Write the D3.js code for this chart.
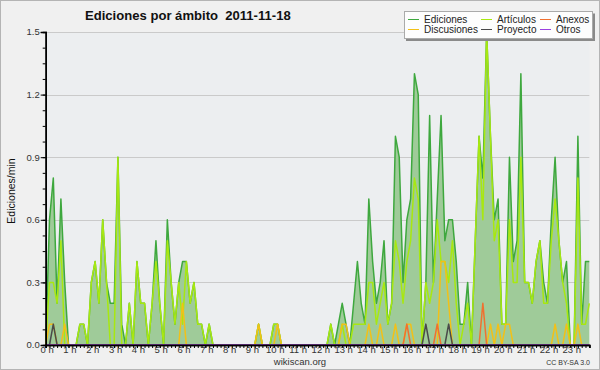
<!DOCTYPE html>
<html><head><meta charset="utf-8">
<script src="https://cdn.jsdelivr.net/npm/d3@7"></script>
<style>body{margin:0;background:#f0f0f0}svg{display:block}text{font-family:"Liberation Sans",Arial,sans-serif}</style>
</head><body><svg id="c" width="600" height="370"></svg>
<script>
const title = "Ediciones por ámbito  2011-11-18";
const yLabel = "Ediciones/min";
const yTicks = [0, 0.3, 0.6, 0.9, 1.2, 1.5];
const hours = d3.range(0, 24);
// 144 ten-minute slots, edits per minute
const ediciones = [
0,0.6,0.8,0.2,0.7,0.3,0,0,0,0.1,
0.1,0,0.3,0.4,0.2,0.6,0.3,0.2,0.2,0.9,
0.1,0,0.2,0,0.4,0.2,0.2,0,0.2,0.5,
0.2,0,0.6,0.3,0.1,0.3,0.4,0.4,0.2,0.3,
0.1,0.1,0,0.1,0,0,0,0,0,0,
0,0,0,0,0,0,0.1,0,0,0,
0.1,0.1,0,0,0,0,0,0,0,0,
0,0,0,0,0,0.1,0,0.1,0.2,0.1,
0,0.2,0.4,0.2,0.1,0.7,0.4,0.2,0.3,0.5,
0.1,0.2,1.0,0.9,0.3,0.6,0.7,1.3,1.2,0,
0.3,1.1,0.3,0.7,1.1,0.5,0.6,0.6,0.4,0.1,
0.1,0.3,0,0.5,1.0,0.8,1.5,1.0,0.6,0.7,
0.1,0.1,0.9,0.4,0.5,1.3,0.3,0.3,0.2,0.4,
0.5,0.3,0.2,0.6,0.9,0.5,0.3,0.4,0,0,
1.0,0.1,0.4,0.4];
const articulos = [
0,0.3,0.3,0.2,0.5,0,0,0,0,0.1,
0.1,0,0.3,0.4,0.2,0.6,0.3,0,0,0.9,
0,0,0.2,0,0.4,0.2,0.2,0,0.2,0.4,
0.2,0,0.5,0.3,0.1,0.3,0.1,0.4,0.2,0.3,
0.1,0.1,0,0.1,0,0,0,0,0,0,
0,0,0,0,0,0,0.1,0,0,0,
0.1,0.1,0,0,0,0,0,0,0,0,
0,0,0,0,0,0.1,0,0,0.1,0,
0,0.1,0.1,0.1,0.1,0.3,0.3,0.1,0.2,0.3,
0.1,0.2,0.5,0.4,0.2,0.4,0.5,0.8,0.7,0,
0.3,0.2,0.3,0.6,0.4,0.4,0.3,0.5,0.2,0,
0.1,0.2,0,0.5,1.0,0.6,1.5,1.0,0.5,0.6,
0.1,0.1,0.6,0.3,0.3,0.9,0.3,0.3,0.2,0.4,
0.5,0.2,0.2,0.5,0.7,0.5,0.3,0.2,0,0,
0.8,0.1,0.1,0.2];
const discusiones = [
0,0.1,0.1,0,0,0.1,0,0,0,0,
0,0,0,0,0,0,0,0,0,0,
0,0,0,0,0,0,0,0,0,0,
0,0,0,0,0,0,0.2,0,0,0,
0,0,0,0,0,0,0,0,0,0,
0,0,0,0,0,0,0.1,0,0,0,
0,0.1,0,0,0,0,0,0,0,0,
0,0,0,0,0,0,0,0,0.1,0.1,
0,0,0,0,0,0.1,0,0,0.1,0,
0,0,0.1,0,0,0.1,0.1,0,0,0,
0,0,0,0,0.4,0.4,0.2,0,0,0,
0,0,0,0,0,0,0,0.1,0,0.1,
0,0.1,0.1,0,0,0,0,0,0,0,
0,0,0,0,0.1,0,0,0.1,0,0,
0.1,0,0,0];
const anexos = [
0,0,0,0,0,0,0,0,0,0, 0,0,0,0,0,0,0,0,0,0,
0,0,0,0,0,0,0,0,0,0, 0,0,0,0,0,0,0,0,0,0,
0,0,0,0,0,0,0,0,0,0, 0,0,0,0,0,0,0,0,0,0,
0,0,0,0,0,0,0,0,0,0, 0,0,0,0,0,0,0,0,0,0,
0,0,0,0,0,0,0,0,0,0, 0,0,0,0,0,0.1,0,0,0,0,
0,0,0,0.1,0,0,0,0,0,0, 0,0,0,0,0,0.2,0,0,0,0,
0,0,0,0,0,0,0,0,0,0, 0,0,0,0,0,0,0,0,0,0,
0,0,0,0];
const proyecto = [
0,0,0.1,0,0,0,0,0,0,0, 0,0,0,0,0,0,0,0,0,0,
0,0,0,0,0,0,0,0,0,0, 0,0,0,0,0,0,0,0,0,0,
0,0,0,0,0,0,0,0,0,0, 0,0,0,0,0,0,0,0,0,0,
0,0,0,0,0,0,0,0,0,0, 0,0,0,0,0,0,0,0,0,0,
0,0,0,0,0,0,0,0,0,0, 0,0,0,0,0,0,0,0,0,0,
0.1,0,0,0,0,0,0.1,0,0,0, 0,0,0,0,0,0,0,0,0,0,
0,0,0,0,0,0,0,0,0,0, 0,0,0,0,0,0,0,0,0,0,
0,0,0,0];
const otros = new Array(144).fill(0);

const seriesColors = {"Ediciones":"#3ea83e","Artículos":"#a8e810","Anexos":"#f07030","Discusiones":"#f2c018","Proyecto":"#4a4a4a","Otros":"#9a40e0"};
const seriesData = {"Ediciones":ediciones,"Artículos":articulos,"Anexos":anexos,"Discusiones":discusiones,"Proyecto":proyecto,"Otros":otros};

const svg = d3.select("#c");
const L = 45.7, R = 589.3, T = 32, B = 345;
const x = d3.scaleLinear().domain([0, 1430]).range([L, R]);
const y = d3.scaleLinear().domain([0, 1.5]).range([B, T]);

// background + frame
svg.append("rect").attr("x",0.5).attr("y",0.5).attr("width",599).attr("height",369)
  .attr("fill","#f0f0f0").attr("stroke","#b4b4b4");
svg.append("rect").attr("x",L).attr("y",T).attr("width",R-L).attr("height",B-T).attr("fill","#eceef0");

// grid
svg.append("g").selectAll("line").data(yTicks.filter(d=>d>0)).join("line")
  .attr("x1",L).attr("x2",R).attr("y1",d=>Math.round(y(d))+0.5).attr("y2",d=>Math.round(y(d))+0.5)
  .attr("stroke","#cacaca");

const mins = d3.range(144).map(i=>i*10);
const area = d3.area().x((d,i)=>x(mins[i])).y0(B).y1(d=>y(d));
svg.append("path").datum(ediciones).attr("d",area).attr("fill","#9fcb99");

const line = d3.line().x((d,i)=>x(mins[i])).y(d=>y(d));
const drawOrder = ["Ediciones","Artículos","Discusiones","Anexos","Proyecto","Otros"];
drawOrder.forEach(n=>{
  svg.append("path").datum(seriesData[n]).attr("d",line).attr("fill","none")
    .attr("stroke",seriesColors[n]).attr("stroke-width",1.5).attr("stroke-linejoin","round");
});

// axes
const yAxisMinor = d3.axisLeft(y).tickValues(d3.range(0,1.5001,0.075)).tickSize(3).tickFormat("");
const gyMinor = svg.append("g").attr("transform",`translate(${L},0)`).call(yAxisMinor);
const yAxis = d3.axisLeft(y).tickValues(yTicks).tickSize(5).tickPadding(1).tickFormat(d3.format(".1f"));
const gy = svg.append("g").attr("transform",`translate(${L},0)`).call(yAxis);
const xAxisMinor = d3.axisBottom(x).tickValues(mins).tickSize(3).tickFormat("");
const gxMinor = svg.append("g").attr("transform",`translate(0,${B})`).call(xAxisMinor);
const xAxis = d3.axisBottom(x).tickValues(hours.map(h=>h*60)).tickSize(3).tickPadding(0).tickFormat(d=>(d/60)+" h");
const gx = svg.append("g").attr("transform",`translate(0,${B})`).call(xAxis);
[gy,gyMinor,gx,gxMinor].forEach(g=>{
  g.selectAll(".domain").attr("stroke","#000").attr("stroke-width",1.5);
  g.selectAll(".tick line").attr("stroke","#000");
  g.selectAll("text").attr("font-size",9.5).attr("fill","#333").attr("font-family","Liberation Sans, Arial, sans-serif");
});
gx.selectAll("text").attr("y",8.3).attr("dy",0).attr("dx","0.1em");
gy.selectAll("text").attr("dy","0.3em");

// title
const tt = svg.append("text").attr("x",85).attr("y",20).attr("font-weight","bold").attr("font-size",12)
  .attr("xml:space","preserve").style("white-space","pre").attr("fill","#111").text(title);
const tw = tt.node().getComputedTextLength();
tt.attr("font-size", 12*206/tw);

// y label
svg.append("text").attr("transform","translate(15,191) rotate(-90)").attr("text-anchor","middle")
  .attr("font-family","DejaVu Sans Mono, monospace").attr("font-size",10.5).attr("fill","#111").text(yLabel);

// footer
svg.append("text").attr("x",300).attr("y",364.5).attr("text-anchor","middle").attr("font-size",9.5).attr("fill","#333").text("wikiscan.org");
svg.append("text").attr("x",590).attr("y",364.5).attr("text-anchor","end").attr("font-size",7).attr("fill","#333").text("CC BY-SA 3.0");

// legend
const lg = svg.append("g");
lg.append("rect").attr("x",406).attr("y",13.5).attr("width",189).attr("height",27.5).attr("fill","#8a8a8a");
lg.append("rect").attr("x",404.5).attr("y",11.5).attr("width",188).attr("height",27).attr("fill","#fdfdfd").attr("stroke","#aaa");
const legendItems = [
  {n:"Ediciones",x:408,y:19},{n:"Artículos",x:481,y:19},{n:"Anexos",x:540,y:19},
  {n:"Discusiones",x:408,y:29},{n:"Proyecto",x:481,y:29},{n:"Otros",x:540,y:29}];
legendItems.forEach(it=>{
  lg.append("line").attr("x1",it.x).attr("x2",it.x+11).attr("y1",it.y+0.5).attr("y2",it.y+0.5)
    .attr("stroke",seriesColors[it.n]).attr("stroke-width",1);
  lg.append("text").attr("x",it.x+16).attr("y",it.y+3.7).attr("font-size",10).attr("fill","#222").text(it.n);
});
</script></body></html>
